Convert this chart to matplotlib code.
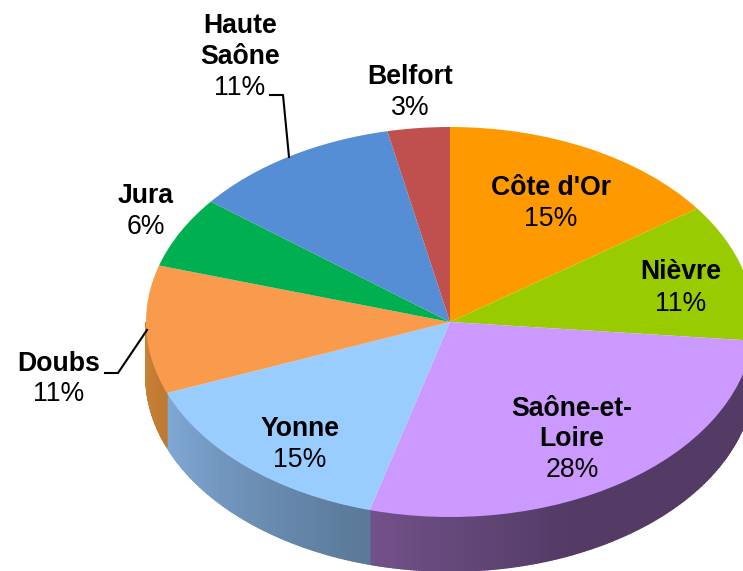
import numpy as np
import matplotlib
matplotlib.use('Agg')
import matplotlib.pyplot as plt
from matplotlib.lines import Line2D

# Departements, clockwise from the top of the pie
names = ["Côte d'Or", "Nièvre", "Saône-et-\nLoire", "Yonne", "Doubs", "Jura", "Haute\nSaône", "Belfort"]
shares = [15.1, 11.4, 27.7, 14.8, 10.6, 5.9, 11.1, 3.3]
top_colors = ['#FF9900', '#99CC00', '#CC99FF', '#99CCFF', '#F99A4C', '#00B050', '#558ED5', '#C0504D']
wall_left = ['#C07A00', '#7A9C00', '#725189', '#80A9D6', '#CB8136', '#008A40', '#43709F', '#953E3C']
wall_right = ['#C07A00', '#7A9C00', '#533B66', '#5A7897', '#BD7A33', '#008A40', '#43709F', '#953E3C']

W, H = 743, 571
CX, CY, RX, RY, DEPTH = 450, 322, 304, 195, 54

plt.rcParams['font.family'] = ['Liberation Sans', 'DejaVu Sans']

fig = plt.figure(figsize=(W / 100, H / 100), dpi=100)
ax = fig.add_axes([0, 0, 1, 1])

# unit circle in data coords, stretched to an ellipse by the axes limits
ax.pie(shares, colors=top_colors, startangle=90, counterclock=False, radius=1,
       wedgeprops={'linewidth': 0, 'zorder': 3}, frame=True)
ax.set_aspect('auto')
ax.set_xlim(-CX / RX, (W - CX) / RX)
ax.set_ylim((CY - H) / RY, CY / RY)
ax.axis('off')

# side wall of the pie, thin strips to get the shading
d = DEPTH / RY
edges = np.cumsum([0] + shares) / sum(shares) * 360
for i in range(len(shares)):
    a0 = max(edges[i], 90)
    a1 = min(edges[i + 1], 270)
    if a1 <= a0:
        continue
    steps = np.linspace(a0, a1, int((a1 - a0) * 2) + 2)
    c0 = np.array(matplotlib.colors.to_rgb(wall_right[i]))
    c1 = np.array(matplotlib.colors.to_rgb(wall_left[i]))
    for s0, s1 in zip(steps[:-1], steps[1:]):
        # Saone-et-Loire stays flat until close to its left end
        t = (0.5 * (s0 + s1) - a0) / (a1 - a0)
        if names[i].startswith('Saône'):
            t = max(0, (t - 0.62) / 0.38)
        col = c0 + (c1 - c0) * t
        th = np.radians([s0, s1])
        xs = np.sin(th)
        ys = np.cos(th)
        # the edge is there to cover the seams between strips
        ax.fill([xs[0], xs[1], xs[1], xs[0]], [ys[0], ys[1], ys[1] - d, ys[0] - d],
                facecolor=col, edgecolor=col, lw=1.2, zorder=2)


def label(x, y, txt, bold=False):
    fig.text(x / W, 1 - y / H, txt, ha='center', va='center', fontsize=19.2,
             fontweight='bold' if bold else 'normal', color='black', zorder=5)


label_pos = [
    (551, [188, 219]),
    (681, [272, 304]),
    (572, [409, 439, 470]),
    (300, [429, 460]),
    (59, [364, 394]),
    (146, [196, 227]),
    (240, [26, 57, 88]),
    (410, [77, 108]),
]
for name, share, (lx, ly) in zip(names, shares, label_pos):
    for part, y in zip(name.split('\n'), ly):
        label(lx, y, part, bold=True)
    label(lx, ly[-1], f'{round(share)}%')

# leader lines
leaders = [
    ([270, 283, 289], [95, 95, 157]),
    ([105, 118, 147], [373, 373, 330]),
]
for lx, ly in leaders:
    fig.add_artist(Line2D(np.array(lx) / W, 1 - np.array(ly) / H, color='black', lw=1.5))

fig.savefig('out.png', dpi=100)
